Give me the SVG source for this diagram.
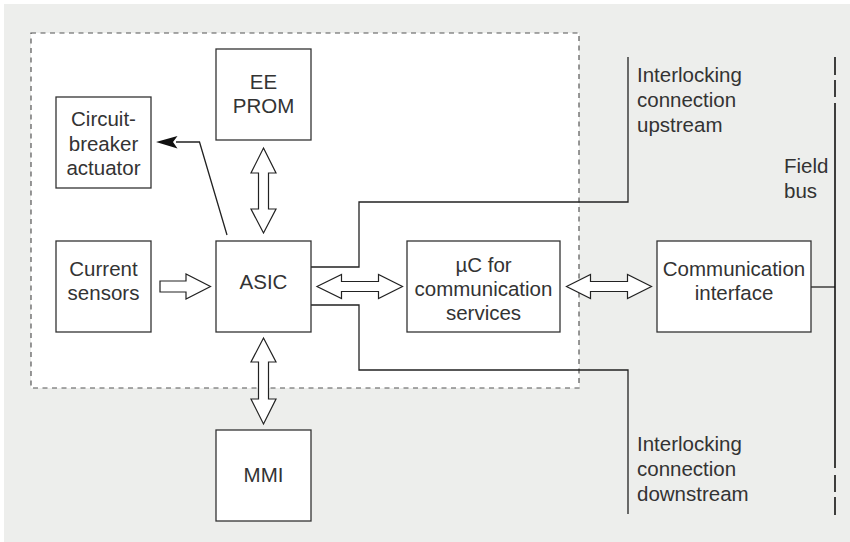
<svg xmlns="http://www.w3.org/2000/svg" width="850" height="542" viewBox="0 0 850 542">
<defs>
<style>
.bg{fill:#edeeec}
.box{fill:#fff;stroke:#333;stroke-width:1.3}
.dash{fill:#fff;stroke:#555;stroke-width:1.2;stroke-dasharray:5 4.5}
.ln{fill:none;stroke:#222;stroke-width:1.3}
.blk{fill:#fff;stroke:#222;stroke-width:1.2;stroke-linejoin:miter}
text{font-family:"Liberation Sans",Arial,sans-serif;font-size:20.5px;fill:#333}
.c{text-anchor:middle}
</style>
</defs>
<rect class="bg" x="4" y="4" width="846" height="538"/>
<rect class="dash" x="31" y="33" width="548" height="355"/>

<g id="connectors">
<polyline class="ln" points="227,235 199.5,142 176,142"/>
<path d="M156,142 L177.5,136 L173,142 L177.5,148.5 Z" fill="#111"/>
<polyline class="ln" points="311,267 359,267 359,202 628,202 628,57"/>
<polyline class="ln" points="311,305 359,305 359,370 628,370 628,514"/>
<line class="ln" x1="811" y1="287" x2="835" y2="287"/>
<g stroke="#111" stroke-width="1.6">
<line x1="835" y1="57" x2="835" y2="75"/>
<line x1="835" y1="80" x2="835" y2="97"/>
<line x1="835" y1="103" x2="835" y2="468"/>
<line x1="835" y1="475" x2="835" y2="492"/>
<line x1="835" y1="497" x2="835" y2="515"/>
</g>
<polygon class="blk" points="160,281 186,281 186,274 210.5,286.5 186,299 186,292 160,292"/>
<polygon class="blk" points="317,286.5 341.5,274.5 341.5,281.5 378.5,281.5 378.5,274.5 402.5,286.5 378.5,298.5 378.5,291.5 341.5,291.5 341.5,298.5"/>
<polygon class="blk" points="566.5,286.5 590.5,274.5 590.5,281.5 627.5,281.5 627.5,274.5 651.5,286.5 627.5,298.5 627.5,291.5 590.5,291.5 590.5,298.5"/>
<polygon class="blk" points="263.5,148 276,173 268.5,173 268.5,209 276,209 263.5,233 251,209 258.5,209 258.5,173 251,173"/>
<polygon class="blk" points="263.5,338 276,362 268.5,362 268.5,399 276,399 263.5,424 251,399 258.5,399 258.5,362 251,362"/>
</g>

<g id="eeprom">
<rect class="box" x="216" y="49" width="95" height="91"/>
<text class="c" x="263.5" y="89">EE</text>
<text class="c" x="263.5" y="113">PROM</text>
</g>
<g id="actuator">
<rect class="box" x="56" y="97" width="95" height="91"/>
<text class="c" x="103.5" y="126">Circuit-</text>
<text class="c" x="103.5" y="150.5">breaker</text>
<text class="c" x="103.5" y="175">actuator</text>
</g>
<g id="sensors">
<rect class="box" x="56" y="241" width="95" height="91"/>
<text class="c" x="103.5" y="276">Current</text>
<text class="c" x="103.5" y="300">sensors</text>
</g>
<g id="asic">
<rect class="box" x="216" y="241" width="95" height="91"/>
<text class="c" x="263.5" y="289">ASIC</text>
</g>
<g id="uc">
<rect class="box" x="407" y="241" width="153" height="91"/>
<text class="c" x="483.5" y="272">µC for</text>
<text class="c" x="483.5" y="296">communication</text>
<text class="c" x="483.5" y="320">services</text>
</g>
<g id="comm">
<rect class="box" x="657" y="241" width="154" height="91"/>
<text class="c" x="734" y="276">Communication</text>
<text class="c" x="734" y="300">interface</text>
</g>
<g id="mmi">
<rect class="box" x="216" y="430" width="95" height="91"/>
<text class="c" x="263.5" y="482">MMI</text>
</g>
<g id="labels">
<text x="637" y="82">Interlocking</text>
<text x="637" y="107">connection</text>
<text x="637" y="132">upstream</text>
<text x="784" y="173">Field</text>
<text x="784" y="198">bus</text>
<text x="637" y="451">Interlocking</text>
<text x="637" y="476">connection</text>
<text x="637" y="501">downstream</text>
</g>
</svg>
